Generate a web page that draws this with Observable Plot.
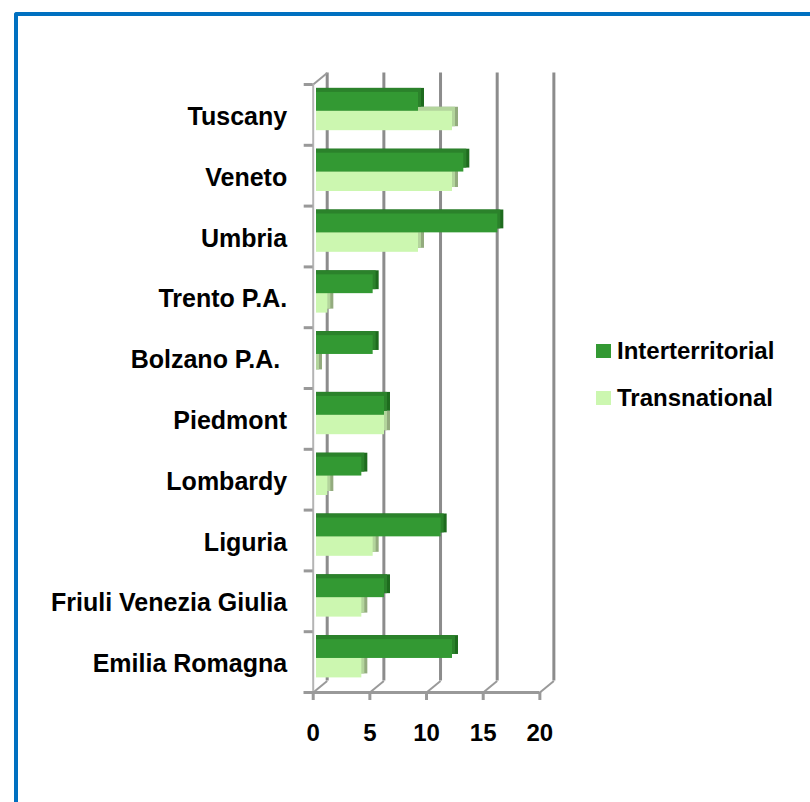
<!DOCTYPE html>
<html>
<head>
<meta charset="utf-8">
<script src="https://cdn.jsdelivr.net/npm/d3@7"></script>
<script src="https://cdn.jsdelivr.net/npm/@observablehq/plot@0.6"></script>
<style>
  html, body { margin: 0; padding: 0; background: #fff; overflow: hidden; }
  #wrap { position: relative; width: 810px; height: 802px; }
  #border { position: absolute; left: 14px; top: 12px; width: 900px; height: 900px;
            border-top: 4px solid #0070c0; border-left: 4px solid #0070c0; border-top-left-radius: 3px; box-sizing: border-box; }
  #chart { position: absolute; left: 0; top: 0; }
  #legend { position: absolute; left: 596px; top: 327px; font-family: "Liberation Sans", Arial, sans-serif;
            font-weight: bold; font-size: 24px; color: #000; }
  .item { display: flex; align-items: center; height: 47px; }
  .sw { width: 15px; height: 14px; margin-right: 6px; }
</style>
</head>
<body>
<div id="wrap">
  <div id="border"></div>
  <div id="chart"></div>
  <div id="legend"></div>
</div>
<script>
const regions = ["Tuscany", "Veneto", "Umbria", "Trento P.A.", "Bolzano P.A.\u00a0", "Piedmont", "Lombardy", "Liguria", "Friuli Venezia Giulia", "Emilia Romagna"];
const interterritorial = [9, 13, 16, 5, 5, 6, 4, 11, 6, 12];
const transnational = [12, 12, 9, 1, 0, 6, 1, 5, 4, 4];
const xTicks = [0, 5, 10, 15, 20];
const seriesNames = ["Interterritorial", "Transnational"];
const colors = { inter: "#339933", interTop: "#2b822b", interSide: "#1e6b1e", trans: "#ccf7b0", transTop: "#b3d59c", transSide: "#93ab7e" };

const rows = regions.map((r, i) => ({ region: r, i: i, inter: interterritorial[i], trans: transnational[i] }));
const rowIdx = d3.range(11);

const PX = 11.333;
const PY = 60.8;
const fx = -3.3 / PX;
const bx = 10.7 / PX;
const by = -11.5 / PY;

const font = "Liberation Sans, Arial, sans-serif";

const chart = Plot.plot({
  width: 810,
  height: 802,
  x: { domain: [0, 20], range: [316, 316 + 20 * PX], axis: null },
  y: { domain: [0, 10], range: [84, 692], axis: null },
  style: { fontFamily: font },
  marks: [
    Plot.ruleX(xTicks, { x: (v) => v + bx, y1: () => by, y2: () => 10 + by, stroke: "#8c8c8c", strokeWidth: 3 }),
    Plot.link(xTicks, { x1: (v) => v + fx, y1: () => 10, x2: (v) => v + bx, y2: () => 10 + by, stroke: "#9a9a9a", strokeWidth: 2 }),
    Plot.link([0], { x1: () => fx, y1: () => 0, x2: () => bx, y2: () => by, stroke: "#9a9a9a", strokeWidth: 2 }),
    Plot.ruleX([0], { x: () => fx, y1: () => 0, y2: () => 10, stroke: "#b4b4b4", strokeWidth: 2 }),
    Plot.ruleY(rowIdx, { y: (v) => v, x1: () => fx - 9 / PX, x2: () => fx, stroke: "#999", strokeWidth: 3 }),
    Plot.ruleY([10], { y: (v) => v, x1: () => fx - 9 / PX, x2: () => 20 + fx, stroke: "#999", strokeWidth: 3 }),
    Plot.ruleX(xTicks, { x: (v) => v + fx, y1: () => 10, y2: () => 10 + 8 / PY, stroke: "#999", strokeWidth: 3 }),
    Plot.text(xTicks, { x: (v) => v + fx, y: () => 10, dy: 41, text: (v) => String(v), fontSize: 24, fontWeight: "bold", fill: "#000" }),
    Plot.text(rows, { x: () => fx, y: (r) => r.i + 0.5, dx: -26, dy: 2, text: "region", textAnchor: "end", fontSize: 25, fontWeight: "bold", fill: "#000" }),
    // transnational: side face, top face, front face
    Plot.rect(rows, { x1: () => 0, x2: "trans", y1: (r) => r.i + 0.44, y2: (r) => r.i + 0.76, dx: 6, dy: -4, insetLeft: -6, fill: colors.transSide }),
    Plot.rect(rows, { x1: () => 0, x2: "trans", y1: (r) => r.i + 0.44, y2: (r) => r.i + 0.76, dx: 3, dy: -4, insetLeft: -3, fill: colors.transTop }),
    Plot.rect(rows, { x1: () => 0, x2: "trans", y1: (r) => r.i + 0.44, y2: (r) => r.i + 0.76, fill: colors.trans }),
    // interterritorial: side face, top face, front face
    Plot.rect(rows, { x1: () => 0, x2: "inter", y1: (r) => r.i + 0.13, y2: (r) => r.i + 0.44, dx: 6, dy: -4, insetLeft: -6, fill: colors.interSide }),
    Plot.rect(rows, { x1: () => 0, x2: "inter", y1: (r) => r.i + 0.13, y2: (r) => r.i + 0.44, dx: 3, dy: -4, insetLeft: -3, fill: colors.interTop }),
    Plot.rect(rows, { x1: () => 0, x2: "inter", y1: (r) => r.i + 0.13, y2: (r) => r.i + 0.44, fill: colors.inter })
  ]
});
document.getElementById("chart").appendChild(chart);

const legend = document.getElementById("legend");
[[seriesNames[0], colors.inter], [seriesNames[1], colors.trans]].forEach(([name, c]) => {
  const item = document.createElement("div");
  item.className = "item";
  const sw = document.createElement("span");
  sw.className = "sw";
  sw.style.background = c;
  const t = document.createElement("span");
  t.textContent = name;
  item.appendChild(sw);
  item.appendChild(t);
  legend.appendChild(item);
});
</script>
</body>
</html>
